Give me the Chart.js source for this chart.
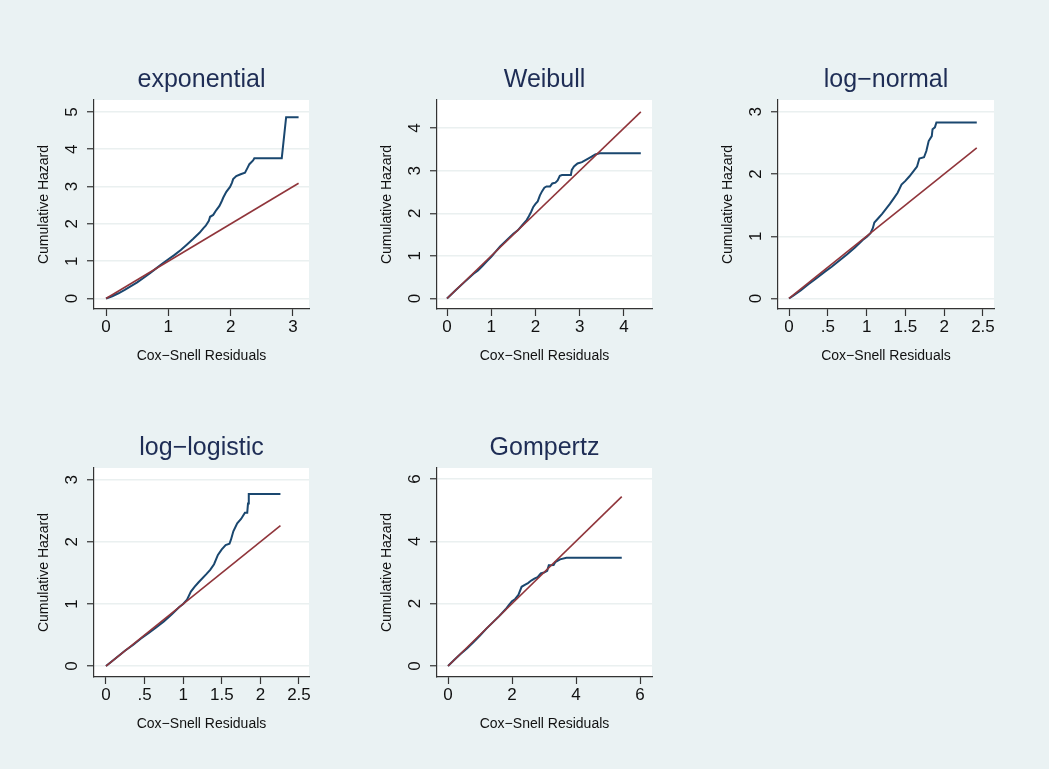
<!DOCTYPE html>
<html>
<head>
<meta charset="utf-8">
<title>Cox-Snell residual plots</title>
<script src="https://cdn.jsdelivr.net/npm/chart.js@4.4.0/dist/chart.umd.min.js"></script>
<style>
    html, body { margin: 0; padding: 0; }
    body {
        width: 1049px;
        height: 769px;
        background: #eaf2f3;
        position: relative;
        overflow: hidden;
    }
    canvas { position: absolute; }
</style>
</head>
<body>
<canvas id="exponential"></canvas>
<canvas id="weibull"></canvas>
<canvas id="lognormal"></canvas>
<canvas id="loglogistic"></canvas>
<canvas id="gompertz"></canvas>

<script>
// Nelson-Aalen cumulative hazard against Cox-Snell residuals
const expX = [0, 0.1, 0.2, 0.3, 0.4, 0.5, 0.6, 0.7, 0.8, 0.9, 1.0, 1.1, 1.2, 1.3, 1.4, 1.5, 1.56, 1.6, 1.65, 1.67, 1.72, 1.77, 1.82, 1.86, 1.88, 1.93, 1.99, 2.02, 2.04, 2.09, 2.16, 2.23, 2.27, 2.3, 2.36, 2.38, 2.82, 2.89, 3.09];
const expH = [0, 0.06, 0.14, 0.23, 0.33, 0.43, 0.55, 0.67, 0.8, 0.93, 1.05, 1.17, 1.3, 1.45, 1.6, 1.76, 1.88, 1.95, 2.08, 2.19, 2.24, 2.37, 2.48, 2.62, 2.7, 2.86, 2.99, 3.1, 3.2, 3.28, 3.33, 3.37, 3.5, 3.6, 3.7, 3.76, 3.76, 4.86, 4.86];

const weiX = [0, 0.2, 0.4, 0.6, 0.7, 0.8, 0.9, 1.0, 1.1, 1.2, 1.3, 1.4, 1.5, 1.6, 1.7, 1.8, 1.85, 1.9, 1.95, 2.0, 2.05, 2.1, 2.15, 2.2, 2.25, 2.33, 2.38, 2.45, 2.5, 2.55, 2.6, 2.8, 2.82, 2.87, 2.95, 3.05, 3.15, 3.25, 3.35, 3.45, 4.38];
const weiH = [0, 0.2, 0.39, 0.58, 0.66, 0.76, 0.87, 0.98, 1.1, 1.22, 1.32, 1.42, 1.52, 1.6, 1.72, 1.84, 1.93, 2.03, 2.15, 2.22, 2.28, 2.42, 2.52, 2.6, 2.63, 2.63, 2.7, 2.72, 2.77, 2.88, 2.9, 2.9, 3.02, 3.1, 3.17, 3.2, 3.26, 3.32, 3.38, 3.41, 3.41];

const lnX = [0, 0.05, 0.15, 0.25, 0.35, 0.45, 0.55, 0.65, 0.75, 0.85, 0.95, 1.0, 1.05, 1.08, 1.1, 1.15, 1.2, 1.25, 1.3, 1.35, 1.4, 1.45, 1.5, 1.55, 1.6, 1.65, 1.68, 1.74, 1.77, 1.8, 1.84, 1.85, 1.88, 1.9, 2.42];
const lnH = [0, 0.04, 0.13, 0.23, 0.32, 0.42, 0.51, 0.61, 0.71, 0.82, 0.94, 0.99, 1.05, 1.13, 1.22, 1.29, 1.36, 1.44, 1.52, 1.61, 1.7, 1.83, 1.89, 1.96, 2.04, 2.12, 2.25, 2.27, 2.37, 2.53, 2.61, 2.72, 2.75, 2.83, 2.83];

const llX = [0, 0.05, 0.15, 0.25, 0.35, 0.45, 0.55, 0.65, 0.75, 0.85, 0.95, 1.0, 1.05, 1.1, 1.15, 1.2, 1.3, 1.35, 1.4, 1.45, 1.5, 1.55, 1.6, 1.62, 1.65, 1.7, 1.75, 1.8, 1.83, 1.84, 1.85, 2.26];
const llH = [0, 0.05, 0.15, 0.25, 0.34, 0.44, 0.53, 0.62, 0.72, 0.83, 0.95, 1.0, 1.07, 1.2, 1.28, 1.35, 1.48, 1.55, 1.64, 1.79, 1.88, 1.95, 1.97, 2.04, 2.17, 2.3, 2.37, 2.47, 2.47, 2.62, 2.77, 2.77];

const gomX = [0, 0.2, 0.4, 0.6, 0.8, 1.0, 1.2, 1.4, 1.6, 1.8, 1.9, 2.0, 2.1, 2.2, 2.3, 2.4, 2.5, 2.6, 2.7, 2.8, 2.9, 3.0, 3.1, 3.15, 3.3, 3.35, 3.5, 3.7, 5.43];
const gomH = [0, 0.2, 0.39, 0.57, 0.77, 0.98, 1.2, 1.4, 1.6, 1.82, 1.95, 2.08, 2.15, 2.28, 2.54, 2.6, 2.66, 2.74, 2.8, 2.85, 2.97, 3.0, 3.05, 3.23, 3.24, 3.33, 3.42, 3.47, 3.47];

// 45 degree reference line, from 0 to the largest residual
const expRef = [0, 3.09];
const weiRef = [0, 4.38];
const lnRef = [0, 2.42];
const llRef = [0, 2.26];
const gomRef = [0, 5.43];

// tick labels
const expXTicks = [0, 1, 2, 3];
const expYTicks = [0, 1, 2, 3, 4, 5];
const weiXTicks = [0, 1, 2, 3, 4];
const weiYTicks = [0, 1, 2, 3, 4];
const lnXTicks = [0, 0.5, 1, 1.5, 2, 2.5];
const lnYTicks = [0, 1, 2, 3];
const llXTicks = [0, 0.5, 1, 1.5, 2, 2.5];
const llYTicks = [0, 1, 2, 3];
const gomXTicks = [0, 2, 4, 6];
const gomYTicks = [0, 2, 4, 6];

(function() {
    'use strict';

    const FONT = '"Liberation Sans", Arial, Helvetica, sans-serif';
    const BLUE = '#1a476f';
    const RED = '#90353b';
    const AXIS = '#333333';

    // y-axis width and x-axis height are fixed so the plot regions line up like the original
    const Y_AXIS_W = 64;
    const X_AXIS_H = 62;
    const TOP_SPACE = 50;
    const RIGHT_PAD = 20;

    const panels = [
        { id: 'exponential', title: 'exponential', xs: expX, hs: expH, ref: expRef,
          xTicks: expXTicks, yTicks: expYTicks,
          area: { left: 94, top: 100, right: 309, bottom: 308.5 },
          xRange: [-0.193, 3.257], yRange: [-0.282, 5.32] },
        { id: 'weibull', title: 'Weibull', xs: weiX, hs: weiH, ref: weiRef,
          xTicks: weiXTicks, yTicks: weiYTicks,
          area: { left: 437, top: 100, right: 652, bottom: 308.5 },
          xRange: [-0.226, 4.633], yRange: [-0.247, 4.66] },
        { id: 'lognormal', title: 'log\u2212normal', xs: lnX, hs: lnH, ref: lnRef,
          xTicks: lnXTicks, yTicks: lnYTicks,
          area: { left: 778, top: 100, right: 994, bottom: 308.5 },
          xRange: [-0.142, 2.642], yRange: [-0.169, 3.19] },
        { id: 'loglogistic', title: 'log\u2212logistic', xs: llX, hs: llH, ref: llRef,
          xTicks: llXTicks, yTicks: llYTicks,
          area: { left: 94, top: 468, right: 309, bottom: 677 },
          xRange: [-0.155, 2.63], yRange: [-0.176, 3.19] },
        { id: 'gompertz', title: 'Gompertz', xs: gomX, hs: gomH, ref: gomRef,
          xTicks: gomXTicks, yTicks: gomYTicks,
          area: { left: 437, top: 468, right: 652, bottom: 677 },
          xRange: [-0.344, 6.375], yRange: [-0.353, 6.35] }
    ];

    // Stata style number labels: .5 instead of 0.5
    function fmt(v) {
        return String(v).replace(/^0\./, '.');
    }

    // white plot region
    const plotRegion = {
        id: 'plotRegion',
        beforeDraw(chart) {
            const a = chart.chartArea;
            const ctx = chart.ctx;
            ctx.save();
            ctx.fillStyle = '#ffffff';
            ctx.fillRect(a.left, a.top, a.right - a.left, a.bottom - a.top);
            ctx.restore();
        }
    };

    // y tick labels are turned 90 degrees in the original
    const rotatedYLabels = {
        id: 'rotatedYLabels',
        afterDraw(chart) {
            const scale = chart.scales.y;
            const ctx = chart.ctx;
            ctx.save();
            ctx.fillStyle = '#111111';
            ctx.font = '17px ' + FONT;
            ctx.textAlign = 'center';
            ctx.textBaseline = 'middle';
            scale.ticks.forEach(function(t) {
                ctx.save();
                ctx.translate(chart.chartArea.left - 22, scale.getPixelForValue(t.value));
                ctx.rotate(-Math.PI / 2);
                ctx.fillText(fmt(t.value), 0, 0);
                ctx.restore();
            });
            ctx.restore();
        }
    };

    panels.forEach(function(p) {
        const canvas = document.getElementById(p.id);
        const left = p.area.left - Y_AXIS_W;
        const top = p.area.top - TOP_SPACE;
        canvas.width = Math.round(p.area.right - left + RIGHT_PAD);
        canvas.height = Math.round(p.area.bottom + X_AXIS_H - top);
        canvas.style.left = left + 'px';
        canvas.style.top = top + 'px';

        new Chart(canvas, {
            type: 'line',
            data: {
                datasets: [{
                    label: 'Cox-Snell residual',
                    data: p.ref.map(v => ({ x: v, y: v })),
                    borderColor: RED,
                    borderWidth: 1.6,
                    pointRadius: 0,
                    tension: 0
                }, {
                    label: 'Cumulative hazard',
                    data: p.xs.map((x, i) => ({ x: x, y: p.hs[i] })),
                    borderColor: BLUE,
                    borderWidth: 2,
                    pointRadius: 0,
                    tension: 0
                }]
            },
            options: {
                responsive: false,
                animation: false,
                devicePixelRatio: 1,
                layout: { padding: { left: 0, top: 0, right: RIGHT_PAD, bottom: 0 } },
                plugins: {
                    legend: { display: false },
                    tooltip: { enabled: false },
                    title: {
                        display: true,
                        text: p.title,
                        fullSize: false,
                        color: '#1e2d55',
                        font: { family: FONT, size: 25, weight: 'normal', lineHeight: 1.2 },
                        padding: { top: 15.6, bottom: 4.4 }
                    }
                },
                scales: {
                    x: {
                        type: 'linear',
                        min: p.xRange[0],
                        max: p.xRange[1],
                        afterBuildTicks: function(scale) {
                            scale.ticks = p.xTicks.map(v => ({ value: v }));
                        },
                        afterFit: function(scale) {
                            scale.height = X_AXIS_H;
                        },
                        ticks: {
                            autoSkip: false,
                            maxRotation: 0,
                            padding: 1,
                            color: '#111111',
                            font: { family: FONT, size: 17 },
                            callback: v => fmt(v)
                        },
                        grid: {
                            drawOnChartArea: false,
                            drawTicks: true,
                            tickLength: 7,
                            tickColor: AXIS,
                            tickWidth: 1.2
                        },
                        border: { display: true, color: AXIS, width: 1.2 },
                        title: {
                            display: true,
                            text: 'Cox\u2212Snell Residuals',
                            color: '#111111',
                            font: { family: FONT, size: 14, lineHeight: 1.2 },
                            padding: { top: 0, bottom: 6.6 }
                        }
                    },
                    y: {
                        type: 'linear',
                        min: p.yRange[0],
                        max: p.yRange[1],
                        afterBuildTicks: function(scale) {
                            scale.ticks = p.yTicks.map(v => ({ value: v }));
                        },
                        afterFit: function(scale) {
                            scale.width = Y_AXIS_W;
                        },
                        ticks: { display: false },
                        grid: {
                            color: '#eaf0f0',
                            lineWidth: 1.5,
                            drawTicks: true,
                            tickLength: 7,
                            tickColor: AXIS,
                            tickWidth: 1.2
                        },
                        border: { display: true, color: AXIS, width: 1.2 },
                        title: {
                            display: true,
                            text: 'Cumulative Hazard',
                            color: '#111111',
                            font: { family: FONT, size: 14, lineHeight: 1.2 },
                            padding: { top: 6.1, bottom: 0 }
                        }
                    }
                }
            },
            plugins: [plotRegion, rotatedYLabels]
        });
    });
})();
</script>
</body>
</html>
